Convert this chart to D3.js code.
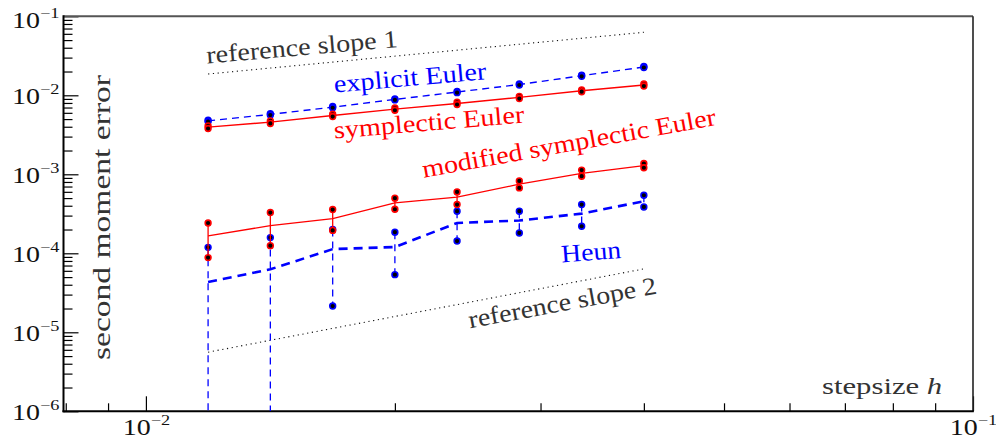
<!DOCTYPE html>
<html><head><meta charset="utf-8">
<script src="https://cdn.jsdelivr.net/npm/d3@7"></script>
<style>body{margin:0;background:#fff}svg{display:block}</style>
</head><body>
<svg id="c" width="996" height="439"></svg>
<script>
// ---------- data ----------
const stepsizes = [0.01189, 0.01414, 0.01682, 0.02, 0.02378, 0.02828, 0.03364, 0.04];

const explicitEuler   = [4.75e-3, 5.73e-3, 7.08e-3, 8.87e-3, 1.10e-2, 1.37e-2, 1.77e-2, 2.28e-2];
const explicitEulerHi = [4.85e-3, 5.85e-3, 7.20e-3, 9.00e-3, 1.12e-2, 1.39e-2, 1.80e-2, 2.31e-2];
const explicitEulerLo = [4.66e-3, 5.62e-3, 6.96e-3, 8.75e-3, 1.08e-2, 1.35e-2, 1.74e-2, 2.25e-2];

const symplecticEuler   = [3.95e-3, 4.57e-3, 5.56e-3, 6.68e-3, 7.89e-3, 9.40e-3, 1.14e-2, 1.35e-2];
const symplecticEulerHi = [4.10e-3, 4.75e-3, 5.75e-3, 6.90e-3, 8.15e-3, 9.70e-3, 1.17e-2, 1.39e-2];
const symplecticEulerLo = [3.80e-3, 4.40e-3, 5.38e-3, 6.47e-3, 7.65e-3, 9.10e-3, 1.11e-2, 1.31e-2];

const modSymplEuler   = [1.66e-4, 2.24e-4, 2.75e-4, 4.34e-4, 5.13e-4, 7.50e-4, 1.03e-3, 1.29e-3];
const modSymplEulerHi = [2.42e-4, 3.28e-4, 3.58e-4, 4.98e-4, 5.98e-4, 8.25e-4, 1.13e-3, 1.37e-3];
const modSymplEulerLo = [8.82e-5, 1.25e-4, 1.95e-4, 3.61e-4, 4.14e-4, 6.73e-4, 9.46e-4, 1.21e-3];

const heun   = [4.33e-5, 6.27e-5, 1.13e-4, 1.20e-4, 2.42e-4, 2.60e-4, 3.18e-4, 4.56e-4];
const heunHi = [1.19e-4, 1.58e-4, 2.00e-4, 1.85e-4, 3.41e-4, 3.41e-4, 4.14e-4, 5.43e-4];
const heunLo = [null, null, 2.15e-5, 5.37e-5, 1.43e-4, 1.81e-4, 2.20e-4, 3.86e-4];

const refSlopeH  = [0.01189, 0.04];
const refSlope1  = [1.86e-2, 6.27e-2];
const refSlope2  = [5.6e-6, 6.35e-5];

const yTickValues = [1e-6, 1e-5, 1e-4, 1e-3, 1e-2, 1e-1];
const yTickExps   = ["\u22126", "\u22125", "\u22124", "\u22123", "\u22122", "\u22121"];
const xTickValues = [1e-2, 1e-1];
const xTickExps   = ["\u22122", "\u22121"];

// ---------- layout ----------
const svg = d3.select("#c");
const x = d3.scaleLog().domain([0.00795, 0.1]).range([63.5, 973]);
const y = d3.scaleLog().domain([1e-6, 1e-1]).range([411.3, 16.3]);
const X0 = x.range()[0], X1 = x.range()[1], Y0 = y.range()[0], Y1 = y.range()[1];

svg.append("rect").attr("width", 996).attr("height", 439).attr("fill", "#fff");
svg.append("clipPath").attr("id", "clip").append("rect")
  .attr("x", X0).attr("y", Y1).attr("width", X1 - X0).attr("height", Y0 - Y1);

// ---------- axes ----------
const yMinor = y.ticks().filter(v => !yTickValues.some(t => Math.abs(t - v) / t < 1e-6));
const xMinor = x.ticks().filter(v => !xTickValues.some(t => Math.abs(t - v) / t < 1e-6));

function styleAxis(g) {
  g.select(".domain").remove();
  g.selectAll(".tick line").attr("stroke", "#000").attr("stroke-width", 1.2);
}
svg.append("g").attr("transform", `translate(${X0},0)`)
  .call(d3.axisLeft(y).tickValues(yMinor).tickSize(-9).tickFormat("")).call(styleAxis);
const gyMajor = svg.append("g").attr("transform", `translate(${X0},0)`)
  .call(d3.axisLeft(y).tickValues(yTickValues).tickSize(-15).tickFormat("")).call(styleAxis);
svg.append("g").attr("transform", `translate(0,${Y0})`)
  .call(d3.axisBottom(x).tickValues(xMinor).tickSize(-8).tickFormat("")).call(styleAxis);
const gxMajor = svg.append("g").attr("transform", `translate(0,${Y0})`)
  .call(d3.axisBottom(x).tickValues(xTickValues).tickSize(-15).tickFormat("")).call(styleAxis);

function powLabel(sel, exp, anchor) {
  const t = sel.append("text").attr("text-anchor", anchor).attr("fill", "#111");
  t.append("tspan").attr("font-size", 23).text("10");
  t.append("tspan").attr("font-size", 15).attr("dy", -9.5).text(exp);
}
gyMajor.selectAll(".tick").each(function (d, i) {
  const off = (i === yTickValues.length - 1) ? 11 : 7.8;
  const g = d3.select(this).append("g").attr("transform", `translate(-4,${off}) scale(1.22,1)`);
  powLabel(g, yTickExps[i], "end");
});
gxMajor.selectAll(".tick").each(function (d, i) {
  const g = d3.select(this).append("g").attr("transform", `translate(0,23.5) scale(1.22,1)`);
  powLabel(g, xTickExps[i], "middle");
});

// frame
svg.append("line").attr("x1", X0).attr("x2", X1).attr("y1", Y1).attr("y2", Y1)
  .attr("stroke", "#555").attr("stroke-width", 2);
svg.append("line").attr("x1", X1).attr("x2", X1).attr("y1", Y1).attr("y2", Y0)
  .attr("stroke", "#222").attr("stroke-width", 1.6);
svg.append("line").attr("x1", X0).attr("x2", X0).attr("y1", Y1 - 1).attr("y2", Y0 + 1)
  .attr("stroke", "#000").attr("stroke-width", 2);
svg.append("line").attr("x1", X0 - 1).attr("x2", X1 + 0.8).attr("y1", Y0).attr("y2", Y0)
  .attr("stroke", "#000").attr("stroke-width", 2);

// ---------- plot ----------
const plot = svg.append("g").attr("clip-path", "url(#clip)");
const line = d3.line().x(d => x(d[0])).y(d => y(d[1]));

function refLine(vals) {
  plot.append("path").datum(refSlopeH.map((h, i) => [h, vals[i]]))
    .attr("d", line).attr("fill", "none").attr("stroke", "#111")
    .attr("stroke-width", 1.1).attr("stroke-dasharray", "1.2,3.6");
}
refLine(refSlope1);
refLine(refSlope2);

function series(mean, hi, lo, color, lw, dash, barDash) {
  const g = plot.append("g");
  g.selectAll("line.bar").data(stepsizes).join("line").attr("class", "bar")
    .attr("x1", d => x(d)).attr("x2", d => x(d))
    .attr("y1", (d, i) => y(hi[i]))
    .attr("y2", (d, i) => lo[i] == null ? Y0 : y(lo[i]))
    .attr("stroke", color).attr("stroke-width", 1.3)
    .attr("stroke-dasharray", barDash);
  g.append("path").datum(stepsizes.map((h, i) => [h, mean[i]]))
    .attr("d", line).attr("fill", "none").attr("stroke", color)
    .attr("stroke-width", lw).attr("stroke-dasharray", dash);
  const pts = [];
  stepsizes.forEach((h, i) => {
    if (hi[i] != null) pts.push([h, hi[i]]);
    if (lo[i] != null) pts.push([h, lo[i]]);
  });
  g.selectAll("circle").data(pts).join("circle")
    .attr("cx", d => x(d[0])).attr("cy", d => y(d[1])).attr("r", 2.9)
    .attr("fill", "#000").attr("stroke", color).attr("stroke-width", 1.6);
}
const BLUE = "#0000ff", RED = "#ff0000";
series(heun, heunHi, heunLo, BLUE, 2.6, "9,6", "7,5");
series(modSymplEuler, modSymplEulerHi, modSymplEulerLo, RED, 1.3, null, null);
series(explicitEuler, explicitEulerHi, explicitEulerLo, BLUE, 1.4, "7,5", "7,5");
series(symplecticEuler, symplecticEulerHi, symplecticEulerLo, RED, 1.4, null, null);

// ---------- text labels ----------
function label(txt, x0, y0, angle, len, color, size) {
  svg.append("text").attr("transform", `translate(${x0},${y0}) rotate(${-angle})`)
    .attr("font-size", size).attr("fill", color)
    .attr("textLength", len).attr("lengthAdjust", "spacingAndGlyphs").text(txt);
}
label("reference slope 1", 207, 63.5, 4.95, 192, "#333", 25);
label("explicit Euler", 334.5, 92.5, 5.0, 153, BLUE, 25);
label("symplectic Euler", 334.5, 138.5, 4.8, 191, RED, 25);
label("modified symplectic Euler", 423.7, 177.7, 10.2, 298, RED, 25);
label("Heun", 561.7, 262.5, 4.5, 60, BLUE, 25);
label("reference slope 2", 470, 328.3, 10.5, 191, "#333", 25);

// axis titles
svg.append("text").attr("transform", "translate(110,360) rotate(-90)")
  .attr("font-size", 26).attr("fill", "#333")
  .attr("textLength", 285).attr("lengthAdjust", "spacingAndGlyphs").text("second moment error");
const xt = svg.append("g").attr("transform", "translate(822,394.3) scale(1.28,1)")
  .append("text").attr("font-size", 24).attr("fill", "#333");
xt.append("tspan").text("stepsize ");
xt.append("tspan").attr("font-style", "italic").text("h");

// font for every text (same form as the verified font test)
svg.selectAll("text").style("font-family", '"Liberation Serif"');
</script>
</body></html>
